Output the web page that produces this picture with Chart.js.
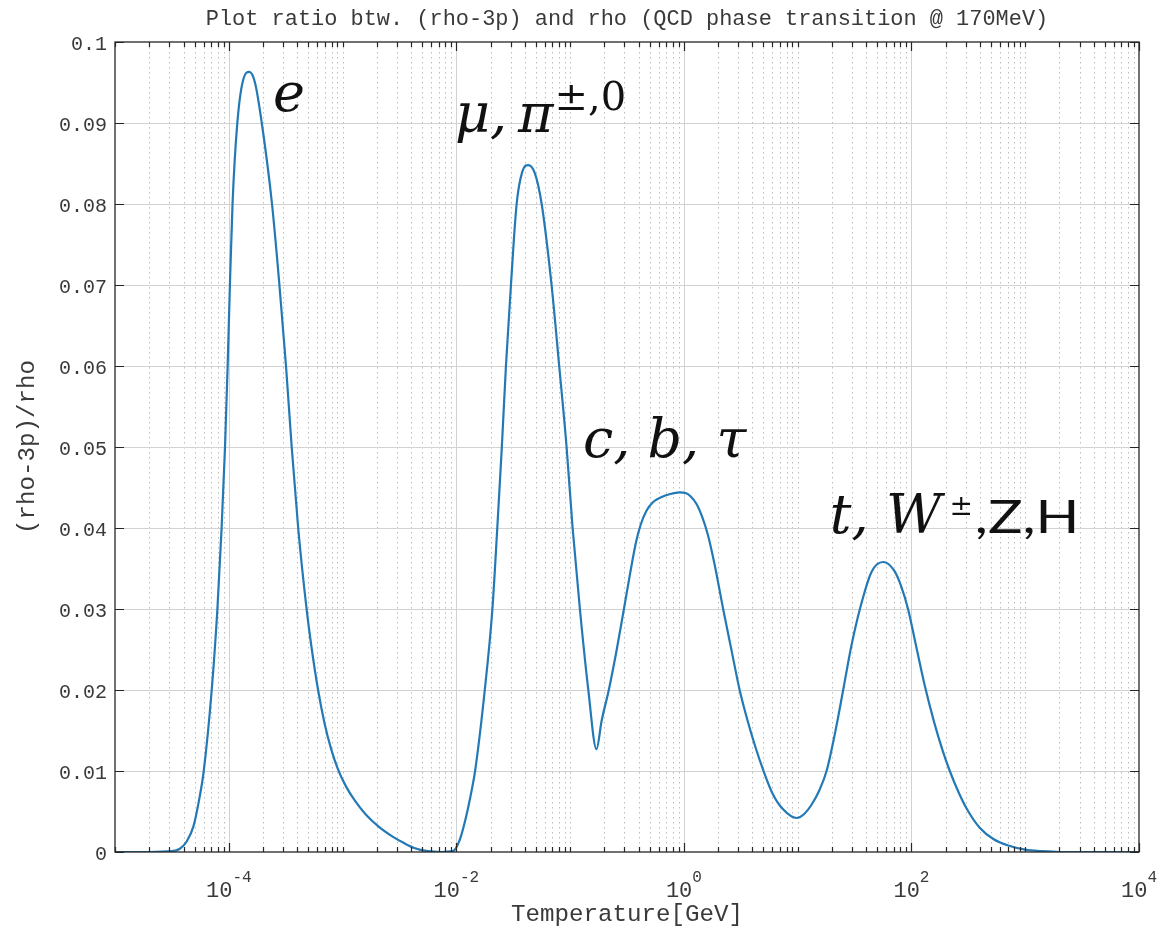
<!DOCTYPE html>
<html><head><meta charset="utf-8">
<script src="https://cdn.jsdelivr.net/npm/chart.js@4.4.1/dist/chart.umd.min.js"></script>
<style>html,body{margin:0;padding:0;background:#fff;}canvas{display:block;}</style>
</head><body>
<canvas id="c" width="1161" height="939"></canvas>
<script>
// ---- data ----
const log10Temperature = [
  -5.00, -4.70, -4.50, -4.43, -4.37, -4.31, -4.26, -4.22, -4.15, -4.10,
  -4.063, -4.033, -4.01, -3.99, -3.967, -3.925, -3.87, -3.82, -3.77, -3.71,
  -3.62, -3.555, -3.497, -3.447, -3.39, -3.316, -3.27, -3.215, -3.16, -3.10,
  -3.04, -2.97, -2.89, -2.80, -2.68, -2.56, -2.46, -2.37, -2.25, -2.14,
  -2.03, -1.97, -1.92, -1.86, -1.835, -1.75, -1.683, -1.64, -1.60, -1.564,
  -1.52, -1.47, -1.42, -1.368, -1.31, -1.25, -1.163, -1.096, -1.031, -0.978,
  -0.914, -0.84, -0.768, -0.723, -0.66, -0.59, -0.527, -0.465, -0.42, -0.38,
  -0.33, -0.27, -0.20, -0.12, -0.04, 0.02, 0.06, 0.11, 0.16, 0.21,
  0.27, 0.345, 0.42, 0.49, 0.56, 0.63, 0.695, 0.78, 0.87, 0.99,
  1.05, 1.12, 1.19, 1.254, 1.33, 1.40, 1.47, 1.547, 1.65, 1.751,
  1.85, 1.91, 1.97, 2.04, 2.118, 2.20, 2.27, 2.337, 2.42, 2.50,
  2.60, 2.72, 2.85, 3.00, 3.15, 3.30, 4.00
];
const ratio = [
  0.0000, 0.0000, 0.0001, 0.0004, 0.0013, 0.0032, 0.0065, 0.0100, 0.0200, 0.0300,
  0.0400, 0.0500, 0.0600, 0.0700, 0.0800, 0.0900, 0.0955, 0.0963, 0.0950, 0.0900,
  0.0800, 0.0700, 0.0600, 0.0500, 0.0400, 0.0300, 0.0250, 0.0200, 0.0160, 0.0127,
  0.0102, 0.0081, 0.0063, 0.0047, 0.0031, 0.0019, 0.0011, 0.0005, 0.0001, 0.0000,
  0.0001, 0.0015, 0.0040, 0.0080, 0.0100, 0.0200, 0.0300, 0.0400, 0.0500, 0.0600,
  0.0700, 0.0800, 0.0840, 0.0848, 0.0838, 0.0800, 0.0700, 0.0600, 0.0500, 0.0400,
  0.0300, 0.0200, 0.0127, 0.0162, 0.0200, 0.0250, 0.0300, 0.0350, 0.0383, 0.0404,
  0.0421, 0.0432, 0.0438, 0.0442, 0.0444, 0.0443, 0.0439, 0.0430, 0.0414, 0.0392,
  0.0355, 0.0300, 0.0248, 0.0200, 0.0162, 0.0129, 0.0102, 0.0072, 0.0053, 0.0042,
  0.0046, 0.0058, 0.0076, 0.0100, 0.0148, 0.0200, 0.0253, 0.0300, 0.0346, 0.0358,
  0.0347, 0.0328, 0.0300, 0.0255, 0.0205, 0.0160, 0.0127, 0.0100, 0.0072, 0.0050,
  0.0030, 0.0016, 0.0008, 0.0003, 0.0001, 0.0000, 0.0000
];
const xTickExponents = [-4, -2, 0, 2, 4];
const xTickLabels = ['-4', '-2', '0', '2', '4'];
const yTickValues = [0, 0.01, 0.02, 0.03, 0.04, 0.05, 0.06, 0.07, 0.08, 0.09, 0.1];
const yTickLabels = ['0', '0.01', '0.02', '0.03', '0.04', '0.05', '0.06', '0.07', '0.08', '0.09', '0.1'];
const titleText = 'Plot ratio btw. (rho-3p) and rho (QCD phase transition @ 170MeV)';
const xTitleText = 'Temperature[GeV]';
const yTitleText = '(rho-3p)/rho';
// annotation labels, anchored in data units: [log10 T, ratio]
const annotations = [
  {at: [-3.612, 0.0915], runs: [{t: 'e', f: 'i'}]},
  {at: [-2.012, 0.0889], runs: [{t: 'μ,\u2009π', f: 'i'}, {t: '±,0', f: 's', dy: -22, pre: 1}]},
  {at: [-0.8875, 0.0488], runs: [{t: 'c, b, τ', f: 'i'}]},
  {at: [1.283, 0.0394], runs: [{t: 't, W', f: 'i'}, {t: '±', f: 'p', dy: -18, pre: 8}, {t: ',Z,H', f: 'n', sx: 1.25, pre: 2}]}
];

const points = log10Temperature.map((e, i) => ({x: Math.pow(10, e), y: ratio[i]}));

const TXT = '#3a3a3a';
const MONO = '"Liberation Mono", "DejaVu Sans Mono", monospace';
function fitFont(ctx, text, width, family) {
  ctx.font = '20px ' + family;
  const w = ctx.measureText(text).width;
  return (20 * width / w).toFixed(2) + 'px ' + family;
}

const decor = {
  id: 'decor',
  beforeDraw(chart) {
    const ctx = chart.ctx;
    ctx.save(); ctx.fillStyle = '#fff'; ctx.fillRect(0, 0, chart.width, chart.height); ctx.restore();
  },
  beforeDatasetsDraw(chart) {
    const {ctx, chartArea: a, scales: {x, y}} = chart;
    ctx.save();
    ctx.lineWidth = 1;
    // minor (dotted) vertical grid
    ctx.strokeStyle = '#bcbcbc';
    ctx.setLineDash([1.5, 3.5]);
    for (let e = -5; e < 4; e++) {
      for (let m = 1; m <= 9; m++) {
        if (m === 1 && (e % 2 === 0 || e === -5)) continue;
        const px = Math.round(x.getPixelForValue(m * Math.pow(10, e))) + 0.5;
        ctx.beginPath(); ctx.moveTo(px, a.top); ctx.lineTo(px, a.bottom); ctx.stroke();
      }
    }
    ctx.setLineDash([]);
    // major grid
    ctx.strokeStyle = '#d2d2d2';
    xTickExponents.forEach(e => {
      const px = Math.round(x.getPixelForValue(Math.pow(10, e))) + 0.5;
      if (px < a.right - 2) { ctx.beginPath(); ctx.moveTo(px, a.top); ctx.lineTo(px, a.bottom); ctx.stroke(); }
    });
    yTickValues.forEach(v => {
      const py = Math.round(y.getPixelForValue(v)) + 0.5;
      if (py > a.top + 2 && py < a.bottom - 2) { ctx.beginPath(); ctx.moveTo(a.left, py); ctx.lineTo(a.right, py); ctx.stroke(); }
    });
    ctx.restore();
  },
  afterDatasetsDraw(chart) {
    const {ctx, chartArea: a, scales: {x, y}} = chart;
    ctx.save();
    ctx.strokeStyle = '#262626';
    ctx.lineWidth = 1.3;
    ctx.strokeRect(a.left, a.top, a.right - a.left, a.bottom - a.top);
    ctx.lineWidth = 1.2;
    // x ticks (inward, bottom and top)
    for (let e = -5; e <= 4; e++) {
      for (let m = 1; m <= 9; m++) {
        if (e === 4 && m > 1) break;
        const px = Math.round(x.getPixelForValue(m * Math.pow(10, e))) + 0.5;
        const len = (m === 1 && e % 2 === 0) ? 9 : 5;
        ctx.beginPath();
        ctx.moveTo(px, a.bottom); ctx.lineTo(px, a.bottom - len);
        ctx.moveTo(px, a.top); ctx.lineTo(px, a.top + len);
        ctx.stroke();
      }
    }
    // y ticks (inward, left and right)
    yTickValues.forEach(v => {
      const py = Math.round(y.getPixelForValue(v)) + 0.5;
      ctx.beginPath();
      ctx.moveTo(a.left, py); ctx.lineTo(a.left + 9, py);
      ctx.moveTo(a.right, py); ctx.lineTo(a.right - 9, py);
      ctx.stroke();
    });
    ctx.fillStyle = TXT;
    // y tick labels
    ctx.font = '20px ' + MONO;
    ctx.textAlign = 'right'; ctx.textBaseline = 'middle';
    yTickValues.forEach((v, i) => ctx.fillText(yTickLabels[i], a.left - 8, y.getPixelForValue(v) + 3));
    // x tick labels with superscript exponent
    ctx.textBaseline = 'alphabetic'; ctx.textAlign = 'left';
    xTickExponents.forEach((e, i) => {
      const px = x.getPixelForValue(Math.pow(10, e));
      ctx.font = '22px ' + MONO; const wb = ctx.measureText('10').width;
      ctx.font = '16px ' + MONO; const we = ctx.measureText(xTickLabels[i]).width;
      const x0 = px - (wb + we) / 2;
      ctx.font = '22px ' + MONO; ctx.fillText('10', x0, a.bottom + 45);
      ctx.font = '16px ' + MONO; ctx.fillText(xTickLabels[i], x0 + wb, a.bottom + 30);
    });
    // titles
    ctx.textAlign = 'center'; ctx.textBaseline = 'middle';
    const cx = (a.left + a.right) / 2;
    ctx.font = fitFont(ctx, titleText, 843, MONO);
    ctx.fillText(titleText, cx, 19);
    ctx.font = fitFont(ctx, xTitleText, 232, MONO);
    ctx.fillText(xTitleText, cx, a.bottom + 63);
    const yf = ctx.font;
    ctx.save();
    ctx.translate(28, (a.top + a.bottom) / 2);
    ctx.rotate(-Math.PI / 2);
    ctx.font = yf;
    ctx.fillText(yTitleText, 0, 0);
    ctx.restore();
    // annotations
    ctx.fillStyle = '#111';
    ctx.textAlign = 'left'; ctx.textBaseline = 'alphabetic';
    const fonts = {
      i: 'italic 54px "DejaVu Serif"',
      s: '40px "DejaVu Serif"',
      p: '28px "DejaVu Serif"',
      n: '46px Lato, "Open Sans", sans-serif'
    };
    annotations.forEach(an => {
      let px = x.getPixelForValue(Math.pow(10, an.at[0]));
      const py = y.getPixelForValue(an.at[1]);
      an.runs.forEach(r => {
        ctx.font = fonts[r.f];
        px += (r.pre || 0);
        const sx = r.sx || 1;
        ctx.save();
        ctx.translate(px, py + (r.dy || 0));
        ctx.scale(sx, 1);
        ctx.fillText(r.t, 0, 0);
        ctx.restore();
        px += ctx.measureText(r.t).width * sx;
      });
    });
    ctx.restore();
  }
};

new Chart(document.getElementById('c'), {
  type: 'line',
  data: {datasets: [{
    data: points,
    borderColor: '#2379b5',
    borderWidth: 2.2,
    pointRadius: 0,
    fill: false,
    cubicInterpolationMode: 'monotone'
  }]},
  options: {
    responsive: false,
    animation: false,
    devicePixelRatio: 1,
    layout: {padding: {left: 115, right: 22, top: 42, bottom: 87}},
    plugins: {legend: {display: false}, tooltip: {enabled: false}, title: {display: false}},
    scales: {
      x: {type: 'logarithmic', min: 1e-5, max: 1e4, display: false},
      y: {type: 'linear', min: 0, max: 0.1, display: false}
    }
  },
  plugins: [decor]
});
</script>
</body></html>
